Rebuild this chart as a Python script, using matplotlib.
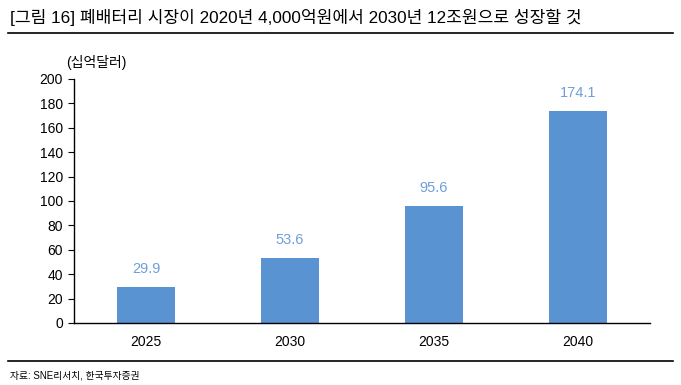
import matplotlib.pyplot as plt
from matplotlib.lines import Line2D

plt.rcParams['font.family'] = ['Liberation Sans', 'Noto Sans CJK KR']

years = ['2025', '2030', '2035', '2040']
values = [29.9, 53.6, 95.6, 174.1]
yticks = [0, 20, 40, 60, 80, 100, 120, 140, 160, 180, 200]

bar_color = '#5A93D1'
label_color = '#6F9FD8'

fig = plt.figure(figsize=(6.81, 3.85), dpi=100)
ax = fig.add_axes([74 / 681, 1 - 323 / 385, 576 / 681, 244 / 385])

x = range(len(years))
ax.bar(x, values, width=0.4, color=bar_color)
for xi, v in zip(x, values):
    ax.text(xi, v + 9, f'{v:.1f}', ha='center', va='bottom', color=label_color, fontsize=10.5)

ax.set_xlim(-0.5, len(years) - 0.5)
ax.set_ylim(0, 200)
ax.set_yticks(yticks)
ax.set_xticks(list(x))
ax.set_xticklabels(years)
ax.tick_params(axis='x', length=0, pad=9, labelsize=10)
ax.tick_params(axis='y', length=4, direction='out', labelsize=10, pad=4)
ax.spines['top'].set_visible(False)
ax.spines['right'].set_visible(False)
for s in ['left', 'bottom']:
    ax.spines[s].set_linewidth(1.0)

fig.text(66 / 681, 1 - 62 / 385, '(십억달러)', fontsize=10, ha='left', va='center')

fig.text(10 / 681, 1 - 17 / 385, '[그림 16] 폐배터리 시장이 2020년 4,000억원에서 2030년 12조원으로 성장할 것',
         fontsize=12.3, ha='left', va='center')
fig.add_artist(Line2D([8 / 681, 673 / 681], [1 - 33 / 385, 1 - 33 / 385], color='black', lw=1.2,
                      transform=fig.transFigure))
fig.add_artist(Line2D([8 / 681, 673 / 681], [1 - 361 / 385, 1 - 361 / 385], color='black', lw=1.2,
                      transform=fig.transFigure))
fig.text(10 / 681, 1 - 375 / 385, '자료: SNE리서치, 한국투자증권', fontsize=7, ha='left', va='center')

fig.savefig('out.png', dpi=100)
